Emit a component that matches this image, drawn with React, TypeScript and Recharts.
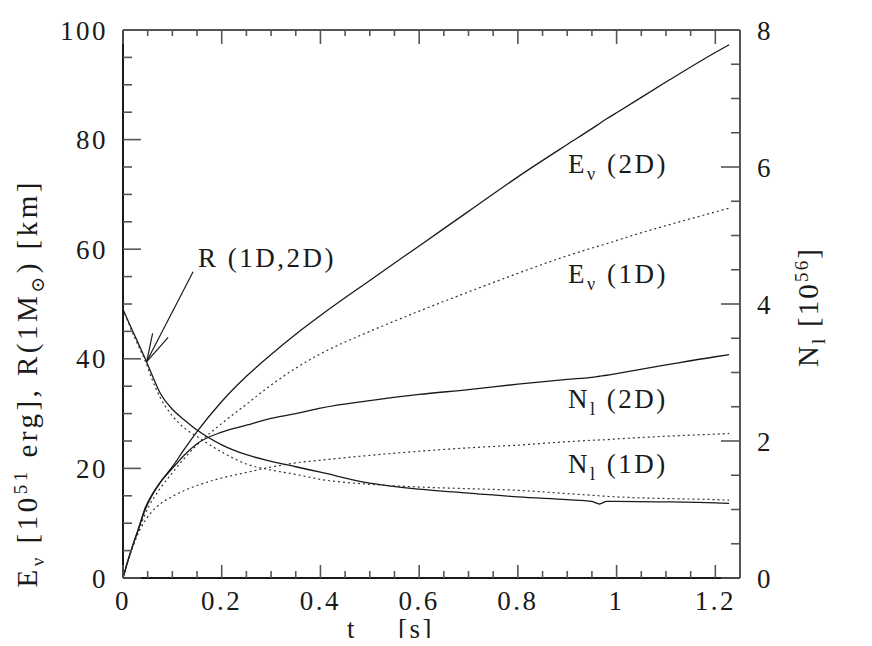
import { LineChart, Line, XAxis, YAxis, ReferenceLine } from 'recharts';

// time after bounce [s]
const tSec = [0, 0.01, 0.02, 0.03, 0.045, 0.06, 0.075, 0.1, 0.125, 0.15, 0.2, 0.25, 0.3, 0.35, 0.4, 0.5, 0.6, 0.7, 0.8, 0.9, 0.95, 0.965, 0.98, 1.0, 1.1, 1.2, 1.228];

// E_nu [10^51 erg]
const eNu2D = [0, 3.2, 6.0, 8.6, 12.8, 15.4, 17.4, 20.3, 23.6, 26.7, 32.2, 36.8, 40.8, 44.5, 47.9, 54.3, 60.6, 66.9, 73.2, 79.1, 82.0, 82.9, 83.8, 84.9, 90.5, 95.9, 97.3];
const eNu1D = [0, 3.1, 5.8, 8.2, 11.7, 14.3, 16.3, 19.2, 21.9, 24.3, 28.2, 31.7, 35.2, 38.3, 40.9, 45.0, 48.7, 52.2, 55.6, 58.8, 60.2, 60.6, 61.0, 61.6, 64.3, 66.8, 67.5];

// N_l [10^56]
const nL2D = [0, 0.25, 0.48, 0.69, 1.0, 1.22, 1.39, 1.6, 1.8, 1.96, 2.13, 2.23, 2.33, 2.4, 2.48, 2.59, 2.68, 2.75, 2.83, 2.9, 2.93, 2.945, 2.96, 2.985, 3.11, 3.23, 3.26];
const nL1D = [0, 0.25, 0.46, 0.64, 0.84, 0.98, 1.08, 1.19, 1.28, 1.35, 1.46, 1.54, 1.62, 1.68, 1.72, 1.79, 1.85, 1.9, 1.94, 1.99, 2.01, 2.015, 2.02, 2.03, 2.07, 2.1, 2.11];

// R(1 Msun) [km]
const r2D = [49, 47.0, 45.0, 43.0, 40.0, 36.8, 33.8, 30.8, 28.8, 27.0, 24.3, 22.5, 21.3, 20.3, 19.3, 17.3, 16.2, 15.5, 14.8, 14.3, 14.0, 13.5, 14.0, 14.0, 13.9, 13.7, 13.6];
const r1D = [49, 46.8, 44.6, 42.6, 39.6, 36.0, 33.0, 29.6, 27.3, 25.8, 23.0, 20.8, 19.7, 18.9, 18.0, 17.1, 16.6, 16.3, 16.0, 15.4, 15.1, 15.0, 14.9, 14.8, 14.5, 14.3, 14.2];

// arrow pointing at R curves (t, value)
const arrowTail = { x: 0.142, y: 55.9 };
const arrowTip = { x: 0.048, y: 39.5 };
const arrowBarbs = [{ x: 0.06, y: 44.65 }, { x: 0.0915, y: 43.9 }];

const tMajor = [0, 0.2, 0.4, 0.6, 0.8, 1, 1.2];
const leftMajor = [0, 20, 40, 60, 80, 100];
const rightMajor = [0, 2, 4, 6, 8];
const tTicks = Array.from({ length: 26 }, (_, i) => +(i * 0.05).toFixed(2));
const leftTicks = Array.from({ length: 21 }, (_, i) => i * 5);
const rightTicks = Array.from({ length: 17 }, (_, i) => i * 0.5);

const data = tSec.map((t, i) => ({
  t,
  eNu2D: eNu2D[i],
  eNu1D: eNu1D[i],
  nL2D: nL2D[i],
  nL1D: nL1D[i],
  r2D: r2D[i],
  r1D: r1D[i],
}));

const FONT = "'Liberation Serif', 'DejaVu Serif', serif";
const INK = '#1a1a1a';
const TICK = '#555';
const PLOT_H = 548;

const txt = { fontFamily: FONT, fontSize: 27, fill: INK, letterSpacing: 2.5 };
const title = { fontFamily: FONT, fontSize: 29, fill: INK };

const BottomTick = (props: any) => {
  const { x, y, payload } = props;
  const major = tMajor.includes(payload.value);
  return (
    <g>
      <line x1={x} y1={y} x2={x} y2={y - (major ? 13 : 7)} stroke={TICK} strokeWidth={1.6} />
      <line x1={x} y1={y - PLOT_H} x2={x} y2={y - PLOT_H + (major ? 14 : 6)} stroke={TICK} strokeWidth={1.6} />
      {major && (
        <text x={x} y={y + 32} textAnchor="middle" {...txt}>
          {payload.value}
        </text>
      )}
    </g>
  );
};

const LeftTick = (props: any) => {
  const { x, y, payload } = props;
  const major = leftMajor.includes(payload.value);
  return (
    <g>
      <line x1={x} y1={y} x2={x + (major ? 18 : 9)} y2={y} stroke={TICK} strokeWidth={1.6} />
      {major && (
        <text x={x - 15} y={y + 9.5} textAnchor="end" {...txt}>
          {payload.value}
        </text>
      )}
    </g>
  );
};

const RightTick = (props: any) => {
  const { x, y, payload } = props;
  const major = rightMajor.includes(payload.value);
  return (
    <g>
      <line x1={x} y1={y} x2={x - (major ? 19 : 9)} y2={y} stroke={TICK} strokeWidth={1.6} />
      {major && (
        <text x={x + 17} y={y + 9.5} textAnchor="start" {...txt}>
          {payload.value}
        </text>
      )}
    </g>
  );
};

export default function App() {
  return (
    <div style={{ position: 'relative', width: 856, height: 638, marginBottom: -8 }}>
      <LineChart width={856} height={638} data={data} margin={{ top: 22, right: 64, bottom: 38, left: 55 }}>
        <XAxis
          dataKey="t"
          type="number"
          domain={[0, 1.25]}
          ticks={tTicks}
          interval={0}
          height={30}
          tickSize={0}
          tickMargin={0}
          tickLine={false}
          tick={<BottomTick />}
          axisLine={{ stroke: INK, strokeWidth: 2 }}
        />
        <YAxis
          yAxisId="left"
          type="number"
          domain={[0, 100]}
          ticks={leftTicks}
          interval={0}
          width={60}
          tickSize={0}
          tickMargin={0}
          tickLine={false}
          tick={<LeftTick />}
          axisLine={{ stroke: INK, strokeWidth: 2 }}
        />
        <YAxis
          yAxisId="right"
          orientation="right"
          type="number"
          domain={[0, 8]}
          ticks={rightTicks}
          interval={0}
          width={60}
          tickSize={0}
          tickMargin={0}
          tickLine={false}
          tick={<RightTick />}
          axisLine={{ stroke: TICK, strokeWidth: 2 }}
        />
        <ReferenceLine yAxisId="left" y={100} stroke={TICK} strokeWidth={2} />

        <Line yAxisId="left" dataKey="eNu2D" type="monotone" stroke={INK} strokeWidth={1.3} dot={false} isAnimationActive={false} />
        <Line yAxisId="left" dataKey="eNu1D" type="monotone" stroke="#333" strokeWidth={1.2} strokeDasharray="2 3" dot={false} isAnimationActive={false} />
        <Line yAxisId="right" dataKey="nL2D" type="monotone" stroke={INK} strokeWidth={1.3} dot={false} isAnimationActive={false} />
        <Line yAxisId="right" dataKey="nL1D" type="monotone" stroke="#333" strokeWidth={1.2} strokeDasharray="2 3" dot={false} isAnimationActive={false} />
        <Line yAxisId="left" dataKey="r2D" type="monotone" stroke={INK} strokeWidth={1.3} dot={false} isAnimationActive={false} />
        <Line yAxisId="left" dataKey="r1D" type="monotone" stroke="#333" strokeWidth={1.2} strokeDasharray="2 3" dot={false} isAnimationActive={false} />

        <ReferenceLine yAxisId="left" segment={[arrowTail, arrowTip]} stroke={INK} strokeWidth={1.2} />
        {arrowBarbs.map((b, i) => (
          <ReferenceLine key={i} yAxisId="left" segment={[b, arrowTip]} stroke={INK} strokeWidth={1.2} />
        ))}
      </LineChart>

      <svg width={856} height={638} style={{ position: 'absolute', left: 0, top: 0, pointerEvents: 'none' }}>
        <text x={560} y={165} {...txt}>
          E<tspan dy={7} fontSize={18}>ν</tspan>
          <tspan dy={-7}>{'  (2D)'}</tspan>
        </text>
        <text x={560} y={275} {...txt}>
          E<tspan dy={7} fontSize={18}>ν</tspan>
          <tspan dy={-7}>{'  (1D)'}</tspan>
        </text>
        <text x={560} y={400} {...txt}>
          N<tspan dy={7} fontSize={18}>l</tspan>
          <tspan dy={-7}>{'  (2D)'}</tspan>
        </text>
        <text x={560} y={465} {...txt}>
          N<tspan dy={7} fontSize={18}>l</tspan>
          <tspan dy={-7}>{'  (1D)'}</tspan>
        </text>
        <text x={190} y={259} {...txt}>
          R (1D,2D)
        </text>
        <text x={339} y={630} {...txt}>
          t<tspan x={390}>[s]</tspan>
        </text>
        <text transform="translate(29,377) rotate(-90)" textAnchor="middle" textLength={405} lengthAdjust="spacing" {...title}>
          E<tspan dy={7} fontSize={19}>ν</tspan>
          <tspan dy={-7}>{' [10'}</tspan>
          <tspan dy={-10} fontSize={19}>51</tspan>
          <tspan dy={10}>{' erg], R(1M'}</tspan>
          <tspan dy={7} fontSize={19}>⊙</tspan>
          <tspan dy={-7}>{') [km]'}</tspan>
        </text>
        <text transform="translate(810,300) rotate(-90)" textAnchor="middle" textLength={118} lengthAdjust="spacing" {...title}>
          N<tspan dy={7} fontSize={19}>l</tspan>
          <tspan dy={-7}>{' [10'}</tspan>
          <tspan dy={-10} fontSize={19}>56</tspan>
          <tspan dy={10}>]</tspan>
        </text>
      </svg>
    </div>
  );
}
